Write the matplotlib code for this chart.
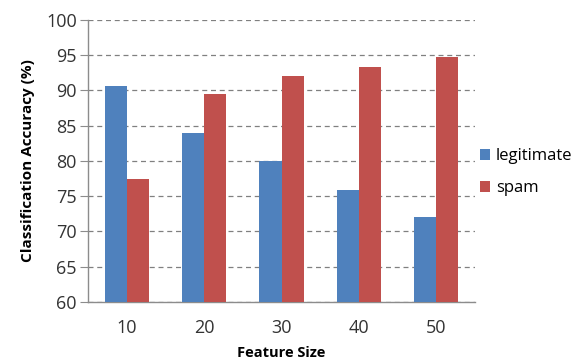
import numpy as np
import matplotlib.pyplot as plt

# feature sizes and accuracies per class
feature_sizes = ["10", "20", "30", "40", "50"]
legitimate = [90.6, 84.0, 80.0, 75.9, 72.0]
spam = [77.5, 89.5, 92.1, 93.4, 94.7]

BLUE = "#4F81BD"
RED = "#C0504D"
GRID = "#808080"

plt.rcParams["font.family"] = ["Open Sans", "DejaVu Sans"]

fig = plt.figure(figsize=(5.83, 3.63), dpi=100)
ax = fig.add_axes([88 / 583, 1 - 302 / 363, 387 / 583, 282 / 363])

x = np.arange(len(feature_sizes))
w = 1 / 3.5
ax.bar(x - w / 2, legitimate, width=w, color=BLUE, label="legitimate", zorder=3)
ax.bar(x + w / 2, spam, width=w, color=RED, label="spam", zorder=3)

ax.set_xlim(-0.5, len(feature_sizes) - 0.5)
ax.set_ylim(60, 100)
ax.set_yticks(np.arange(60, 101, 5))
ax.set_xticks(x)
ax.set_xticklabels(feature_sizes)

ax.yaxis.grid(True, linestyle=(0, (4, 3)), color=GRID, linewidth=0.9, zorder=0)
ax.set_axisbelow(True)
for s in ["top", "right"]:
    ax.spines[s].set_visible(False)
for s in ["left", "bottom"]:
    ax.spines[s].set_color("#8c8c8c")
    ax.spines[s].set_linewidth(1.0)

ax.tick_params(axis="y", length=6, color="#8c8c8c", labelsize=13, pad=2,
               labelcolor="#333333")
ax.tick_params(axis="x", length=0, labelsize=13, pad=12, labelcolor="#333333")

ax.set_ylabel("Classification Accuracy (%)", fontsize=11, fontweight="bold",
              labelpad=8)
ax.set_xlabel("Feature Size", fontsize=10.5, fontweight="bold", labelpad=7)

ax.legend(loc="center left", bbox_to_anchor=(1.0, 0.46), frameon=False,
          fontsize=12, handlelength=0.6, handleheight=0.6, handletextpad=0.35,
          labelspacing=0.95, borderaxespad=0.1, borderpad=0.2)

fig.savefig("out.png", dpi=100)
